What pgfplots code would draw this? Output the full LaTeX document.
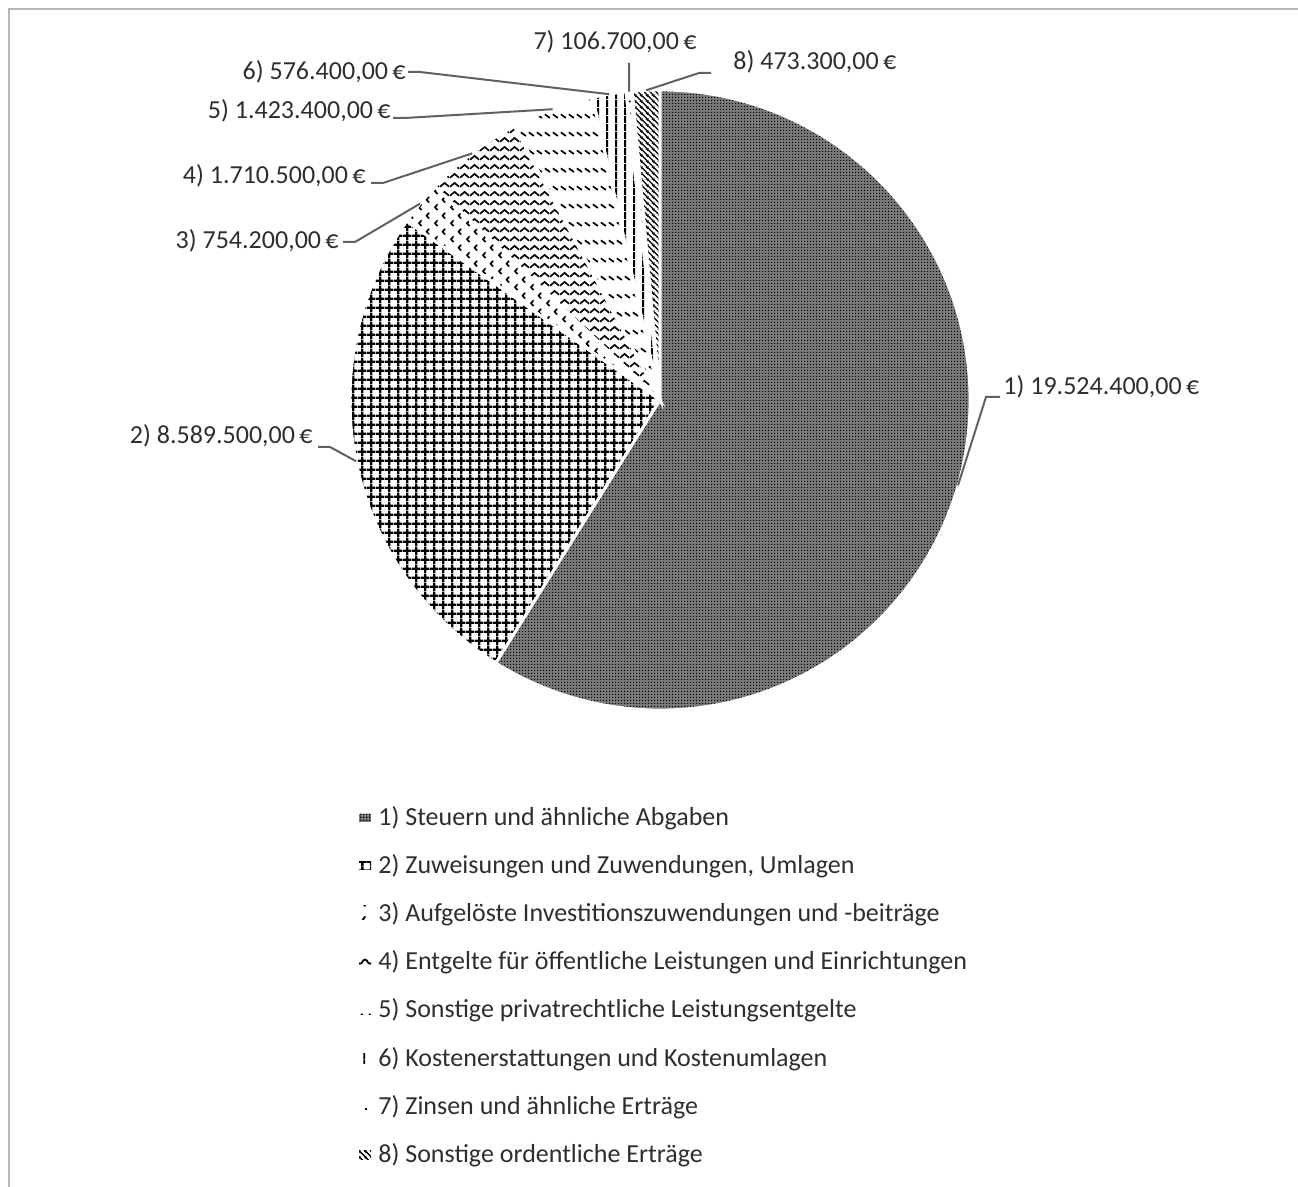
\documentclass[border=0pt]{standalone}
\usepackage{pgfplots}
\pgfplotsset{compat=1.18}
\usepackage{pgfplotstable}
\usepackage{fontspec}
\setmainfont{Carlito}
\usetikzlibrary{patterns}

% ---------- patterns ----------
\pgfdeclarepatternformonly{pdense}{\pgfpointorigin}{\pgfpoint{1.5pt}{1.5pt}}{\pgfpoint{1.5pt}{1.5pt}}{%
  \pgfpathrectangle{\pgfpointorigin}{\pgfpoint{0.8pt}{0.8pt}}\pgfusepath{fill}}
\pgfdeclarepatternformonly{pgrid}{\pgfpointorigin}{\pgfpoint{4.6pt}{4.6pt}}{\pgfpoint{4.6pt}{4.6pt}}{%
  \pgfsetlinewidth{1.2pt}%
  \pgfpathmoveto{\pgfpoint{0pt}{2.3pt}}\pgfpathlineto{\pgfpoint{4.6pt}{2.3pt}}%
  \pgfpathmoveto{\pgfpoint{2.3pt}{0pt}}\pgfpathlineto{\pgfpoint{2.3pt}{4.6pt}}%
  \pgfusepath{stroke}}
\pgfdeclarepatternformonly{pchev}{\pgfpointorigin}{\pgfpoint{8pt}{8pt}}{\pgfpoint{8pt}{8pt}}{%
  \pgfsetlinewidth{0.9pt}%
  \pgfpathmoveto{\pgfpoint{2.9pt}{3.5pt}}\pgfpathlineto{\pgfpoint{1.6pt}{2pt}}\pgfpathlineto{\pgfpoint{2.9pt}{0.5pt}}%
  \pgfpathmoveto{\pgfpoint{6.9pt}{7.5pt}}\pgfpathlineto{\pgfpoint{5.6pt}{6pt}}\pgfpathlineto{\pgfpoint{6.9pt}{4.5pt}}%
  \pgfusepath{stroke}}
\pgfdeclarepatternformonly{pwave}{\pgfpointorigin}{\pgfpoint{5pt}{4.6pt}}{\pgfpoint{5pt}{4.6pt}}{%
  \pgfsetlinewidth{0.9pt}%
  \pgfpathmoveto{\pgfpoint{0pt}{1.2pt}}%
  \pgfpathcurveto{\pgfpoint{1.25pt}{1.2pt}}{\pgfpoint{1.25pt}{3.3pt}}{\pgfpoint{2.5pt}{3.3pt}}%
  \pgfpathcurveto{\pgfpoint{3.75pt}{3.3pt}}{\pgfpoint{3.75pt}{1.2pt}}{\pgfpoint{5pt}{1.2pt}}%
  \pgfusepath{stroke}}
\pgfdeclarepatternformonly{pdash}{\pgfpointorigin}{\pgfpoint{4pt}{9pt}}{\pgfpoint{4pt}{9pt}}{%
  \pgfsetlinewidth{0.9pt}%
  \pgfpathmoveto{\pgfpoint{0.5pt}{5.6pt}}\pgfpathlineto{\pgfpoint{3.3pt}{3.7pt}}%
  \pgfusepath{stroke}}
\pgfdeclarepatternformonly{pvert}{\pgfpointorigin}{\pgfpoint{4.5pt}{4pt}}{\pgfpoint{4.5pt}{4pt}}{%
  \pgfsetlinewidth{1pt}%
  \pgfpathmoveto{\pgfpoint{2.25pt}{0pt}}\pgfpathlineto{\pgfpoint{2.25pt}{4pt}}%
  \pgfusepath{stroke}}
\pgfdeclarepatternformonly{pdot}{\pgfpointorigin}{\pgfpoint{6pt}{6pt}}{\pgfpoint{6pt}{6pt}}{%
  \pgfpathrectangle{\pgfpoint{2.5pt}{2.5pt}}{\pgfpoint{1pt}{1pt}}\pgfusepath{fill}}
\pgfdeclarepatternformonly{pdiag}{\pgfpointorigin}{\pgfpoint{3pt}{3pt}}{\pgfpoint{3pt}{3pt}}{%
  \pgfsetlinewidth{0.75pt}%
  \pgfpathmoveto{\pgfpoint{-0.5pt}{3.5pt}}\pgfpathlineto{\pgfpoint{3.5pt}{-0.5pt}}%
  \pgfpathmoveto{\pgfpoint{-1pt}{1pt}}\pgfpathlineto{\pgfpoint{1pt}{-1pt}}%
  \pgfpathmoveto{\pgfpoint{2pt}{4pt}}\pgfpathlineto{\pgfpoint{4pt}{2pt}}%
  \pgfusepath{stroke}}

% ---------- data ----------
\pgfplotstableread{
value
19524400
8589500
754200
1710500
1423400
576400
106700
473300
}\piedata

\newcommand\getv[2]{\pgfplotstablegetelem{#1}{value}\of\piedata\xdef#2{\pgfplotsretval}}
\getv{0}\vA \getv{1}\vB \getv{2}\vC \getv{3}\vD
\getv{4}\vE \getv{5}\vF \getv{6}\vG \getv{7}\vH
\xdef\vT{\fpeval{\vA+\vB+\vC+\vD+\vE+\vF+\vG+\vH}}
\xdef\aA{90}
\xdef\aB{\fpeval{round(90-360*(\vA)/\vT,4)}}
\xdef\aC{\fpeval{round(90-360*(\vA+\vB)/\vT,4)}}
\xdef\aD{\fpeval{round(90-360*(\vA+\vB+\vC)/\vT,4)}}
\xdef\aE{\fpeval{round(90-360*(\vA+\vB+\vC+\vD)/\vT,4)}}
\xdef\aF{\fpeval{round(90-360*(\vA+\vB+\vC+\vD+\vE)/\vT,4)}}
\xdef\aG{\fpeval{round(90-360*(\vA+\vB+\vC+\vD+\vE+\vF)/\vT,4)}}
\xdef\aH{\fpeval{round(90-360*(\vA+\vB+\vC+\vD+\vE+\vF+\vG)/\vT,4)}}
\xdef\aI{-270}
\xdef\mA{\fpeval{(\aA+\aB)/2}} \xdef\mB{\fpeval{(\aB+\aC)/2}}
\xdef\mC{\fpeval{(\aC+\aD)/2}} \xdef\mD{\fpeval{(\aD+\aE)/2}}
\xdef\mE{\fpeval{(\aE+\aF)/2}} \xdef\mF{\fpeval{(\aF+\aG)/2}}
\xdef\mG{\fpeval{(\aG+\aH)/2}} \xdef\mH{\fpeval{(\aH+\aI)/2}}

\newcommand\eur[1]{\pgfmathprintnumber[fixed,fixed zerofill,precision=2,use comma,1000 sep={.},assume math mode=true]{#1}\,€}
\newcommand\sector[3]{\path[#3] (axis cs:660,400) -- ++(#1:155pt) arc[start angle=#1, end angle=#2, radius=155pt] -- cycle;}

\tikzset{
  sep/.style={draw=white, line width=1.4pt},
  leader/.style={draw=black!62, line width=1pt},
  lab/.style={text=black!82, font=\fontsize{13}{15}\selectfont, inner sep=0pt},
  leg/.style={text=black!82, font=\fontsize{13}{15}\selectfont, inner sep=0pt, anchor=west},
}

\begin{document}
\begin{tikzpicture}
\begin{axis}[
  x=0.5pt, y=0.5pt, xmin=0, xmax=1298, ymin=0, ymax=1187,
  y dir=reverse, hide axis, clip=false,
]
\coordinate (BL) at (axis cs:0,1187);
\coordinate (TR) at (axis cs:1298,0);
% frame
\draw[black!28, line width=1.3pt] (axis cs:9,1190) -- (axis cs:9,9) -- (axis cs:1300,9);

% sectors
\sector{\aA}{\aB}{preaction={fill=black!52}, pattern=pdense, pattern color=black}
\sector{\aB}{\aC}{pattern=pgrid, pattern color=black}
\sector{\aC}{\aD}{pattern=pchev, pattern color=black}
\sector{\aD}{\aE}{pattern=pwave, pattern color=black}
\sector{\aE}{\aF}{pattern=pdash, pattern color=black}
\sector{\aF}{\aG}{pattern=pvert, pattern color=black}
\sector{\aG}{\aH}{pattern=pdot, pattern color=black}
\sector{\aH}{\aI}{pattern=pdiag, pattern color=black}
\sector{\aA}{\aB}{sep}
\sector{\aB}{\aC}{sep}
\sector{\aC}{\aD}{sep}
\sector{\aD}{\aE}{sep}
\sector{\aE}{\aF}{sep}
\sector{\aF}{\aG}{sep}
\sector{\aG}{\aH}{sep}
\sector{\aH}{\aI}{sep}

% leader lines
\draw[leader] (axis cs:660,400) ++(\mA:155pt) -- (axis cs:986,397) -- (axis cs:1000,397);
\draw[leader] (axis cs:660,400) ++(\mB:155pt) -- (axis cs:330,447) -- (axis cs:318,447);
\draw[leader] (axis cs:660,400) ++(\mC:155pt) -- (axis cs:355,242) -- (axis cs:343,242);
\draw[leader] (axis cs:660,400) ++(\mD:155pt) -- (axis cs:383,183) -- (axis cs:371,183);
\draw[leader] (axis cs:660,400) ++(\mE:155pt) -- (axis cs:405,118) -- (axis cs:393,118);
\draw[leader] (axis cs:660,400) ++(\mF:155pt) -- (axis cs:420,72) -- (axis cs:408,72);
\draw[leader] (axis cs:660,400) ++(\mG:155pt) -- (axis cs:629,63);
\draw[leader] (axis cs:660,400) ++(\mH:155pt) -- (axis cs:699,73) -- (axis cs:711,73);

% data labels
\node[lab, anchor=west] at (axis cs:1003,387) {1) \eur{\vA}};
\node[lab, anchor=east] at (axis cs:313,436) {2) \eur{\vB}};
\node[lab, anchor=east] at (axis cs:339,241) {3) \eur{\vC}};
\node[lab, anchor=east] at (axis cs:366,176) {4) \eur{\vD}};
\node[lab, anchor=east] at (axis cs:391,111) {5) \eur{\vE}};
\node[lab, anchor=east] at (axis cs:406,72) {6) \eur{\vF}};
\node[lab, anchor=center] at (axis cs:615,42) {7) \eur{\vG}};
\node[lab, anchor=west] at (axis cs:733,62) {8) \eur{\vH}};

% legend
\path[preaction={fill=black!52}, pattern=pdense, pattern color=black] (axis cs:359,814) rectangle (axis cs:371,822);
\path[pattern=pgrid, pattern color=black] (axis cs:359,862) rectangle (axis cs:371,870);
\path[pattern=pchev, pattern color=black] (axis cs:359,906) rectangle (axis cs:369,920);
\path[pattern=pwave, pattern color=black] (axis cs:359,957) rectangle (axis cs:371,965);
\path[pattern=pdash, pattern color=black] (axis cs:359,1003) rectangle (axis cs:371,1015);
\path[pattern=pvert, pattern color=black] (axis cs:360,1054) rectangle (axis cs:366,1063);
\path[pattern=pdot, pattern color=black] (axis cs:360,1103) rectangle (axis cs:368,1111);
\path[pattern=pdiag, pattern color=black] (axis cs:359,1150) rectangle (axis cs:371,1159);
\node[leg] at (axis cs:378,818) {1) Steuern und ähnliche Abgaben};
\node[leg] at (axis cs:378,866) {2) Zuweisungen und Zuwendungen, Umlagen};
\node[leg] at (axis cs:378,914) {3) Aufgelöste Investitionszuwendungen und -beiträge};
\node[leg] at (axis cs:378,962) {4) Entgelte für öffentliche Leistungen und Einrichtungen};
\node[leg] at (axis cs:378,1010) {5) Sonstige privatrechtliche Leistungsentgelte};
\node[leg] at (axis cs:378,1059) {6) Kostenerstattungen und Kostenumlagen};
\node[leg] at (axis cs:378,1107) {7) Zinsen und ähnliche Erträge};
\node[leg] at (axis cs:378,1155) {8) Sonstige ordentliche Erträge};
\end{axis}
\pgfresetboundingbox
\path (BL) rectangle (TR);
\end{tikzpicture}
\end{document}
